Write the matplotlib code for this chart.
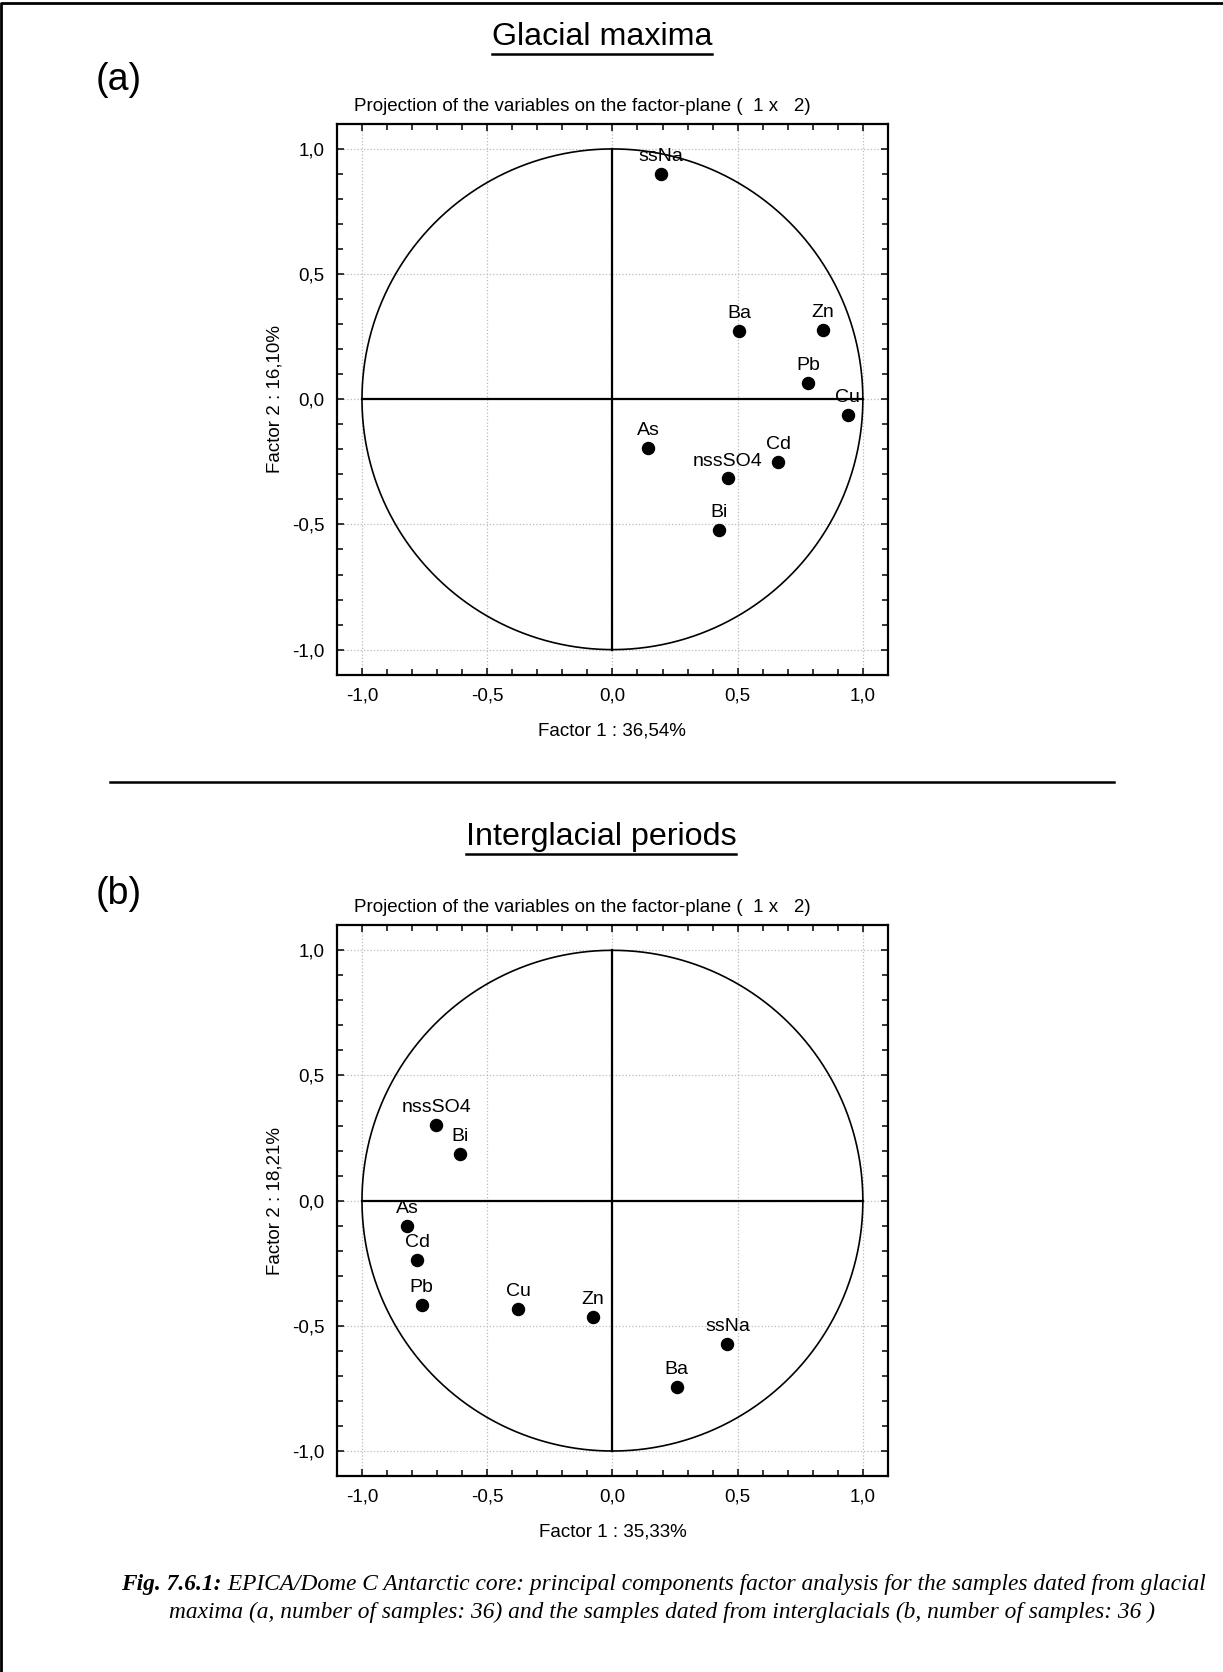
import matplotlib
matplotlib.use("Agg")
import matplotlib.pyplot as plt
import numpy as np
from matplotlib.lines import Line2D
from matplotlib.ticker import MultipleLocator, FuncFormatter

plt.rcParams['font.family'] = ['Liberation Sans', 'DejaVu Sans']

# (a) glacial maxima loadings
vars_a = ['ssNa', 'Ba', 'Zn', 'Pb', 'Cu', 'As', 'Cd', 'nssSO4', 'Bi']
f1_a = [0.195, 0.506, 0.840, 0.782, 0.940, 0.143, 0.662, 0.460, 0.426]
f2_a = [0.901, 0.273, 0.278, 0.064, -0.061, -0.194, -0.252, -0.316, -0.523]

# (b) interglacial loadings
vars_b = ['nssSO4', 'Bi', 'As', 'Cd', 'Pb', 'Cu', 'Zn', 'ssNa', 'Ba']
f1_b = [-0.704, -0.607, -0.820, -0.780, -0.762, -0.376, -0.077, 0.459, 0.257]
f2_b = [0.301, 0.186, -0.102, -0.238, -0.416, -0.434, -0.463, -0.571, -0.744]

xlabel_a = 'Factor 1 : 36,54%'
ylabel_a = 'Factor 2 : 16,10%'
xlabel_b = 'Factor 1 : 35,33%'
ylabel_b = 'Factor 2 : 18,21%'
plot_title = 'Projection of the variables on the factor-plane (  1 x   2)'

FS = 13.5


def comma_fmt(v, pos):
    return '{:.1f}'.format(v).replace('.', ',').replace('-0,0', '0,0')


def factor_plot(ax, names, x, y, xlabel, ylabel):
    t = np.linspace(0, 2 * np.pi, 400)
    ax.plot(np.cos(t), np.sin(t), color='black', lw=1.2)
    ax.plot([-1, 1], [0, 0], color='black', lw=1.6)
    ax.plot([0, 0], [-1, 1], color='black', lw=1.6)
    ax.scatter(x, y, s=75, color='black', zorder=3)
    for n, xi, yi in zip(names, x, y):
        ax.annotate(n, (xi, yi), xytext=(0, 12.5), textcoords='offset points',
                    ha='center', va='center', fontsize=14)
    ax.set_xlim(-1.1, 1.1)
    ax.set_ylim(-1.1, 1.1)
    ax.xaxis.set_major_locator(MultipleLocator(0.5))
    ax.yaxis.set_major_locator(MultipleLocator(0.5))
    ax.xaxis.set_minor_locator(MultipleLocator(0.1))
    ax.yaxis.set_minor_locator(MultipleLocator(0.1))
    ax.xaxis.set_major_formatter(FuncFormatter(comma_fmt))
    ax.yaxis.set_major_formatter(FuncFormatter(comma_fmt))
    ax.tick_params(which='both', direction='in', top=True, right=True,
                   labelsize=FS, pad=9, width=1.1)
    ax.tick_params(which='major', length=5)
    ax.tick_params(which='minor', length=4)
    ax.grid(True, which='major', color='#bbbbbb', ls=':', lw=0.9)
    ax.set_axisbelow(True)
    for s in ax.spines.values():
        s.set_linewidth(1.6)
    ax.set_xlabel(xlabel, fontsize=FS)
    ax.xaxis.set_label_coords(0.5, -(731 - 674.7) / 550.7)
    ax.xaxis.label.set_va('center')
    ax.set_ylabel(ylabel, fontsize=FS)
    ax.yaxis.set_label_coords(-0.1125, 0.5)
    ax.yaxis.label.set_va('center')
    ax.text(0.445, 1.0316, plot_title, transform=ax.transAxes,
            ha='center', va='center', fontsize=FS)


fig = plt.figure(figsize=(12.23, 16.72), dpi=100)

ax_a = fig.add_axes([0.2755, 0.5965, 0.4505, 0.3294])
factor_plot(ax_a, vars_a, f1_a, f2_a, xlabel_a, ylabel_a)

ax_b = fig.add_axes([0.2755, 0.1172, 0.4505, 0.3294])
factor_plot(ax_b, vars_b, f1_b, f2_b, xlabel_b, ylabel_b)

renderer = fig.canvas.get_renderer()


def underlined(x, y, s, size):
    t = fig.text(x, y, s, ha='center', va='center', fontsize=size)
    bb = t.get_window_extent(renderer).transformed(fig.transFigure.inverted())
    yl = bb.y0 - 0.0012
    fig.add_artist(Line2D([bb.x0, bb.x1], [yl, yl], color='black', lw=1.8,
                          transform=fig.transFigure))


underlined(0.4922, 0.9779, 'Glacial maxima', 23.2)
underlined(0.4914, 0.4994, 'Interglacial periods', 23.2)

fig.text(0.0785, 0.952, '(a)', ha='left', va='center', fontsize=27)
fig.text(0.0785, 0.4653, '(b)', ha='left', va='center', fontsize=27)

# separator
fig.add_artist(Line2D([0.09, 0.911], [0.5325, 0.5325], color='black', lw=1.8,
                      transform=fig.transFigure))

# border (top and left only)
fig.add_artist(Line2D([0.0012, 0.0012, 1.0], [0.0, 0.9985, 0.9985], color='black',
                      lw=2, transform=fig.transFigure))

# caption
cap_font = ['Liberation Serif', 'DejaVu Serif']
cap_fs = 16.8
part1 = 'Fig. 7.6.1:'
part2 = ' EPICA/Dome C Antarctic core: principal components factor analysis for the samples dated from glacial'
line2 = 'maxima (a, number of samples: 36) and the samples dated from interglacials (b, number of samples: 36 )'
t1 = fig.text(0, 0.0523, part1, fontsize=cap_fs, family=cap_font,
              style='italic', weight='bold', va='center')
t2 = fig.text(0, 0.0523, part2, fontsize=cap_fs, family=cap_font,
              style='italic', va='center')
w1 = t1.get_window_extent(renderer).width / fig.bbox.width
w2 = t2.get_window_extent(renderer).width / fig.bbox.width
x0 = 0.5425 - (w1 + w2) / 2
t1.set_x(x0)
t2.set_x(x0 + w1)
fig.text(0.5415, 0.0359, line2, fontsize=cap_fs, family=cap_font,
         style='italic', ha='center', va='center')

fig.savefig('out.png', dpi=100)
